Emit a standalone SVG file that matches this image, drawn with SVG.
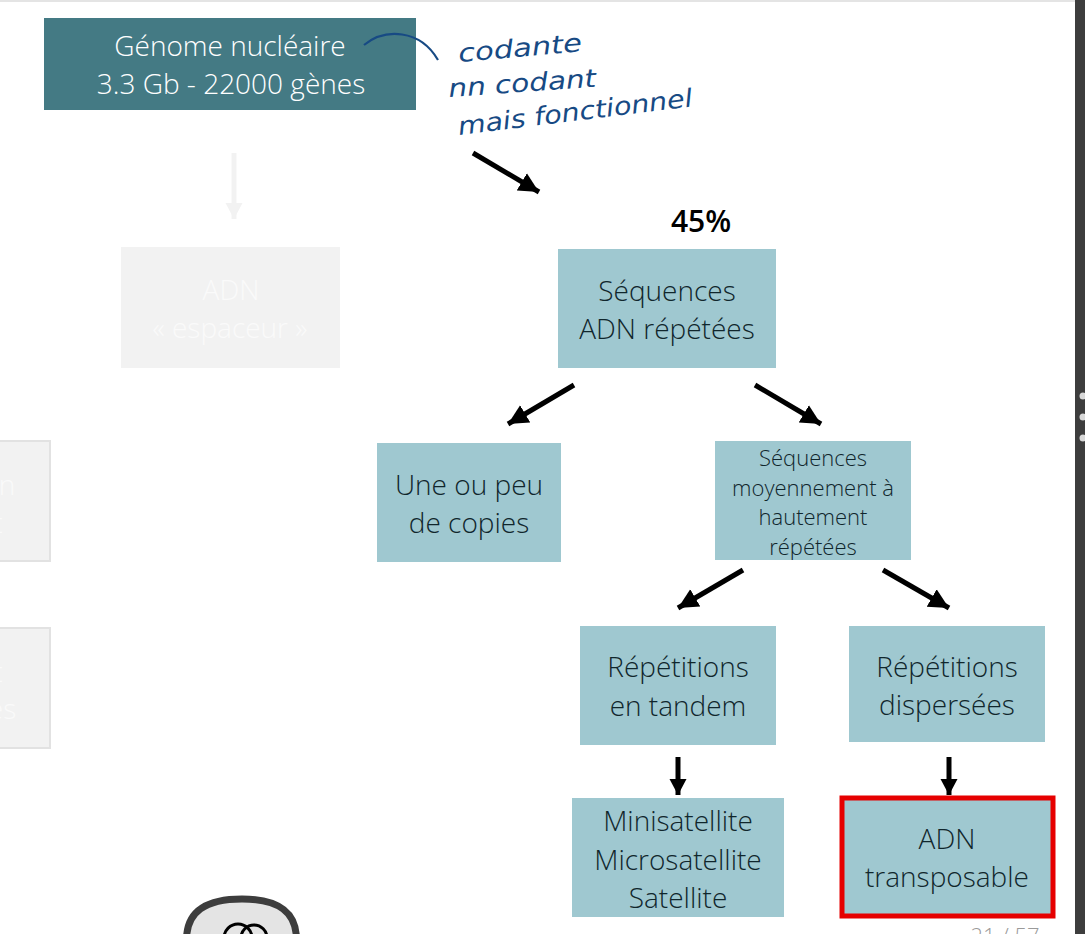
<svg xmlns="http://www.w3.org/2000/svg" width="1085" height="934" viewBox="0 0 1085 934">
<defs>
<marker id="ah" markerUnits="userSpaceOnUse" markerWidth="22" markerHeight="22" refX="20" refY="11" orient="auto"><path d="M0 1L20 11L0 21Z" fill="#000"/></marker>
<marker id="av" markerUnits="userSpaceOnUse" markerWidth="18" markerHeight="20" refX="16" refY="9" orient="auto"><path d="M0 0.500L16 9L0 17.500Z" fill="#000"/></marker>
<marker id="ahg" markerUnits="userSpaceOnUse" markerWidth="18" markerHeight="20" refX="16" refY="9" orient="auto"><path d="M0 0.500L16 9L0 17.500Z" fill="#f2f2f2"/></marker>
</defs>
<style>
text{font-family:"Open Sans","Liberation Sans",sans-serif;font-weight:300;text-anchor:middle;font-size:28px;fill:#10262c}
.s{font-size:22px}
.b{fill:#9fc8d0}
.g{fill:#f2f2f2}
.gt{fill:#fafafa}
.w{fill:#fff}
.c{stroke:#000;stroke-width:5;fill:none;marker-end:url(#ah)}
.v{stroke:#000;stroke-width:5;fill:none;marker-end:url(#av)}
.h{font-family:"DejaVu Sans",sans-serif;font-style:italic;font-weight:400;fill:#174a84;text-anchor:start;font-size:25px}
</style>
<rect width="1085" height="934" fill="#fff"/>
<rect width="1075" height="2" fill="#e4e4e4"/>
<g id="top"><rect x="44" y="18" width="372" height="92" fill="#447a84"/><text class="w" x="230" y="56">Génome nucléaire</text><text class="w" x="231" y="94">3.3 Gb - 22000 gènes</text></g>
<g id="espaceur"><rect class="g" x="121" y="247" width="219" height="121"/><text class="gt" x="231" y="300">ADN</text><text class="gt" x="230" y="338">« espaceur »</text></g>
<g id="left1"><rect class="g" x="-10" y="441" width="60" height="120" stroke="#e2e2e2" stroke-width="2"/><text class="gt" x="7" y="495">n</text><text class="gt" x="-2" y="533">t</text></g>
<g id="left2"><rect class="g" x="-10" y="628" width="60" height="120" stroke="#e2e2e2" stroke-width="2"/><text class="gt" x="-2" y="682">t</text><text class="gt" x="2" y="719">es</text></g>
<g id="repetees"><rect class="b" x="558" y="249" width="218" height="119"/><text x="667" y="301">Séquences</text><text x="667" y="339">ADN répétées</text></g>
<g id="copies"><rect class="b" x="377" y="443" width="184" height="119"/><text x="469" y="495">Une ou peu</text><text x="469" y="533">de copies</text></g>
<g id="moyen"><rect class="b" x="715" y="441" width="196" height="119"/>
<text class="s" x="813" y="466">Séquences</text><text class="s" x="813" y="496">moyennement à</text><text class="s" x="813" y="525">hautement</text><text class="s" x="813" y="555">répétées</text></g>
<g id="tandem"><rect class="b" x="580" y="626" width="196" height="119"/><text x="678" y="677">Répétitions</text><text x="678" y="716">en tandem</text></g>
<g id="disp"><rect class="b" x="849" y="626" width="196" height="116"/><text x="947" y="677">Répétitions</text><text x="947" y="715">dispersées</text></g>
<g id="sat"><rect class="b" x="572" y="798" width="212" height="119"/><text x="678" y="831">Minisatellite</text><text x="678" y="870">Microsatellite</text><text x="678" y="908">Satellite</text></g>
<g id="transposable"><rect class="b" x="842" y="798" width="211" height="118" stroke="#e60000" stroke-width="5"/><text x="947" y="849">ADN</text><text x="947" y="887">transposable</text></g>
<g id="connectors">
<path d="M234 153V219" stroke="#f2f2f2" stroke-width="5" fill="none" marker-end="url(#ahg)"/>
<path class="c" d="M473 153L539 192"/>
<path class="c" d="M574 385L508 424"/>
<path class="c" d="M755 385L821 424"/>
<path class="c" d="M743 570L678 608"/>
<path class="c" d="M883 570L949 608"/>
<path class="v" d="M678 757V795"/>
<path class="v" d="M949 757V795"/>
<path d="M364 45C385 28 420 29 438 60" stroke="#174a84" stroke-width="2.200" fill="none"/>
</g>
<text x="701" y="232" style="font-weight:600;font-size:30px;fill:#000">45%</text>
<g id="notes">
<text class="h" transform="translate(459 62) rotate(-5)" textLength="124" lengthAdjust="spacingAndGlyphs">codante</text>
<text class="h" transform="translate(449 97) rotate(-4)" textLength="148" lengthAdjust="spacingAndGlyphs">nn codant</text>
<text class="h" transform="translate(459 135) rotate(-7)" textLength="236" lengthAdjust="spacingAndGlyphs">mais fonctionnel</text>
</g>
<g id="icon"><path d="M186.500 940C186.500 912 205 899 242 899C279 899 296.500 912 296.500 940Z" fill="#e4e4e4" stroke="#3d3d3d" stroke-width="7"/><circle cx="238" cy="938" r="14" fill="none" stroke="#000" stroke-width="3"/><circle cx="254" cy="938" r="13" fill="none" stroke="#000" stroke-width="3"/></g>
<text x="1005" y="944" style="font-size:22px;fill:#9a9a9a">21 / 57</text>
<g id="bar"><rect x="1075" width="10" height="934" fill="#3d3d3d"/><circle cx="1083" cy="396" r="3.500" fill="#d8d8d8"/><circle cx="1083" cy="417" r="3.500" fill="#d8d8d8"/><circle cx="1083" cy="438" r="3.500" fill="#d8d8d8"/></g>
</svg>
